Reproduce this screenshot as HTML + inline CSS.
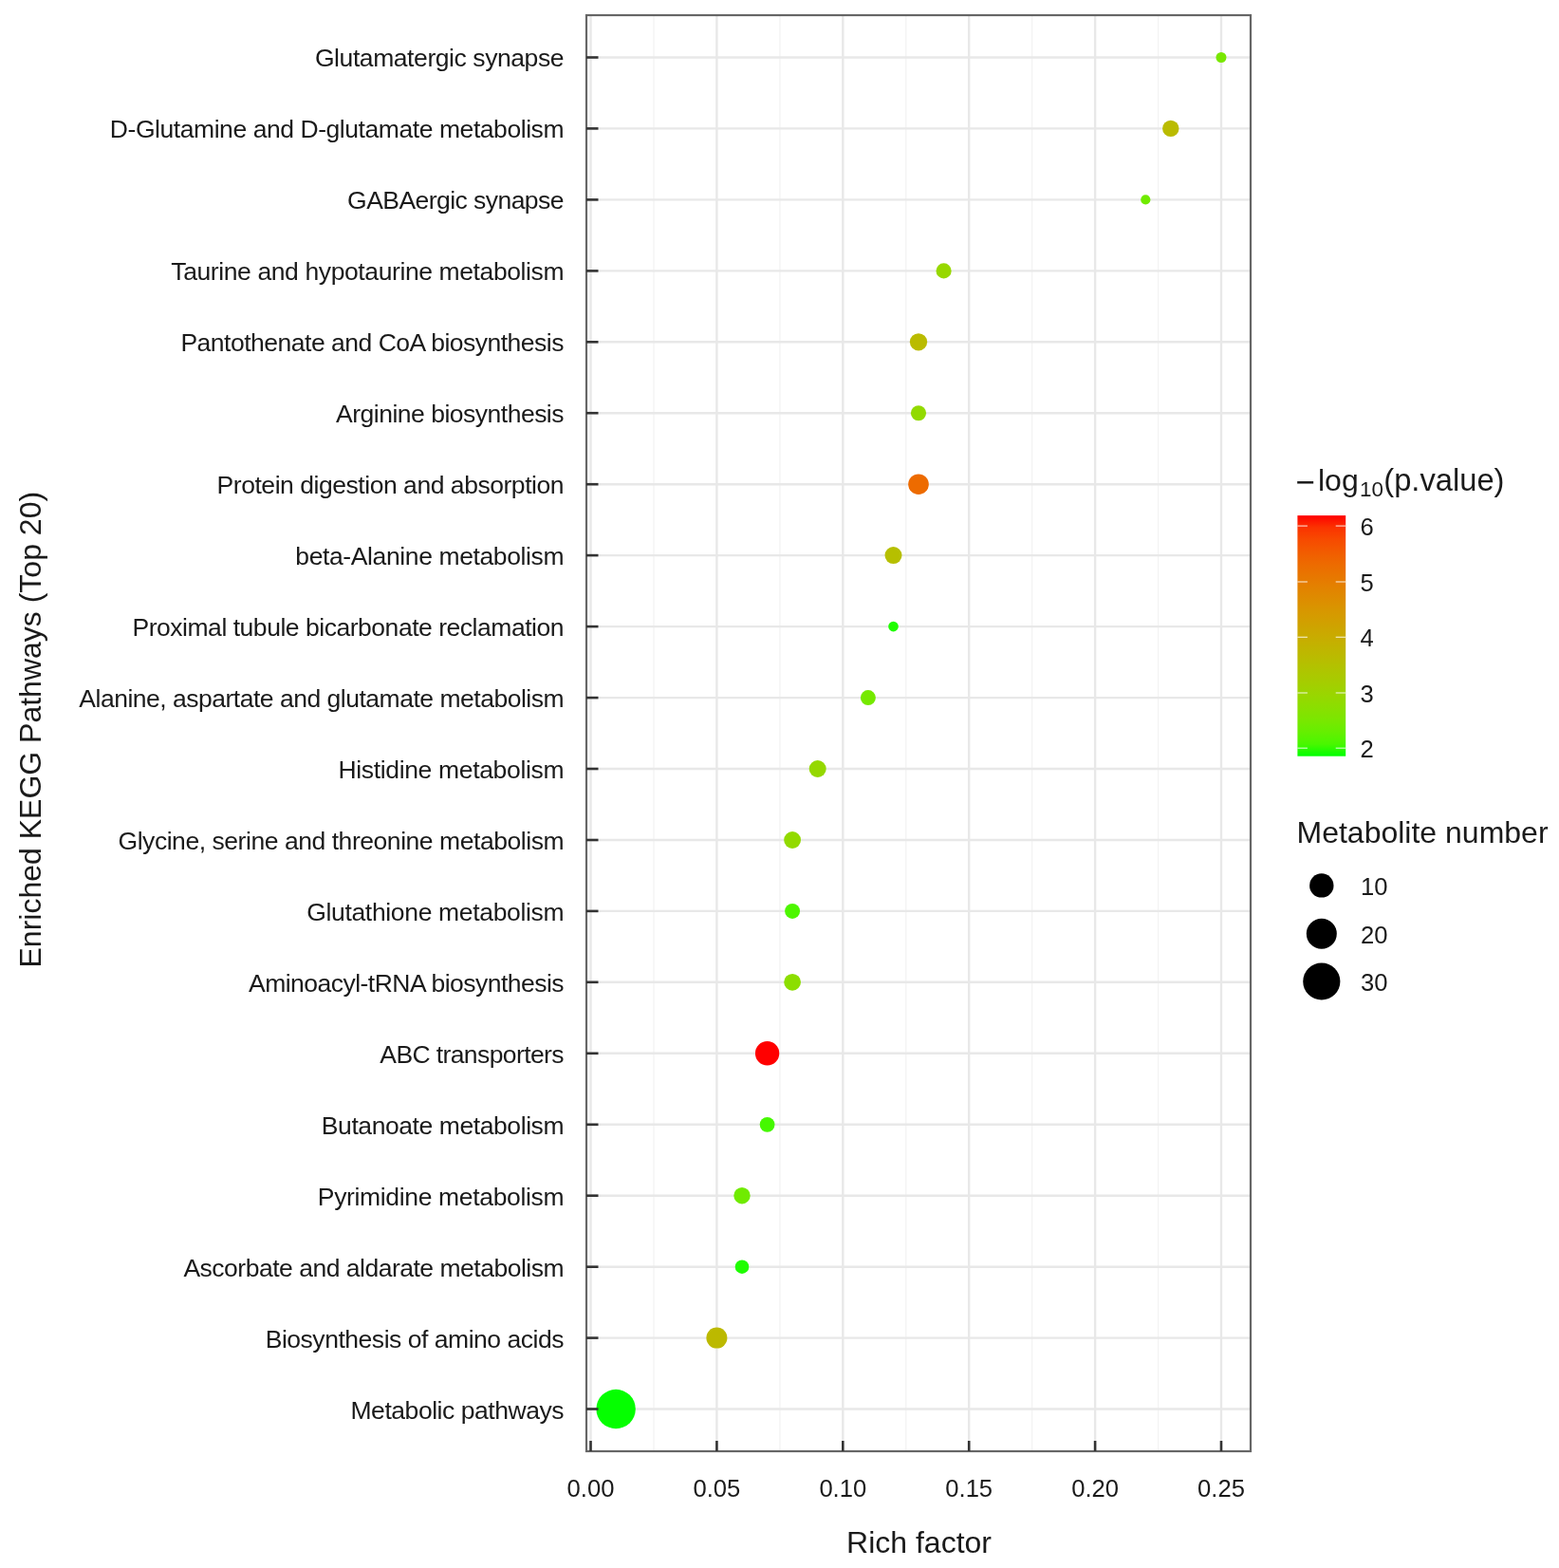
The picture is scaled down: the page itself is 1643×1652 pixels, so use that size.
<!DOCTYPE html><html><head><meta charset="utf-8"><title>KEGG enrichment bubble chart</title><style>html,body{margin:0;padding:0;background:#fff}svg{display:block;filter:blur(0.55px)}text{font-family:"Liberation Sans",Arial,Helvetica,sans-serif}</style></head><body>
<svg width="1643" height="1652" viewBox="0 0 1643 1652">
<rect width="1643" height="1652" fill="#fff"/>
<line x1="689.0" y1="16" x2="689.0" y2="1529" stroke="#f3f3f3" stroke-width="1.3"/>
<line x1="821.9" y1="16" x2="821.9" y2="1529" stroke="#f3f3f3" stroke-width="1.3"/>
<line x1="954.8" y1="16" x2="954.8" y2="1529" stroke="#f3f3f3" stroke-width="1.3"/>
<line x1="1087.7" y1="16" x2="1087.7" y2="1529" stroke="#f3f3f3" stroke-width="1.3"/>
<line x1="1220.6" y1="16" x2="1220.6" y2="1529" stroke="#f3f3f3" stroke-width="1.3"/>
<line x1="622.5" y1="16" x2="622.5" y2="1529" stroke="#e8e8e8" stroke-width="2.4"/>
<line x1="755.4" y1="16" x2="755.4" y2="1529" stroke="#e8e8e8" stroke-width="2.4"/>
<line x1="888.3" y1="16" x2="888.3" y2="1529" stroke="#e8e8e8" stroke-width="2.4"/>
<line x1="1021.2" y1="16" x2="1021.2" y2="1529" stroke="#e8e8e8" stroke-width="2.4"/>
<line x1="1154.1" y1="16" x2="1154.1" y2="1529" stroke="#e8e8e8" stroke-width="2.4"/>
<line x1="1287.0" y1="16" x2="1287.0" y2="1529" stroke="#e8e8e8" stroke-width="2.4"/>
<line x1="618" y1="60.5" x2="1318" y2="60.5" stroke="#e8e8e8" stroke-width="2.4"/>
<line x1="618" y1="135.4" x2="1318" y2="135.4" stroke="#e8e8e8" stroke-width="2.4"/>
<line x1="618" y1="210.4" x2="1318" y2="210.4" stroke="#e8e8e8" stroke-width="2.4"/>
<line x1="618" y1="285.4" x2="1318" y2="285.4" stroke="#e8e8e8" stroke-width="2.4"/>
<line x1="618" y1="360.3" x2="1318" y2="360.3" stroke="#e8e8e8" stroke-width="2.4"/>
<line x1="618" y1="435.2" x2="1318" y2="435.2" stroke="#e8e8e8" stroke-width="2.4"/>
<line x1="618" y1="510.2" x2="1318" y2="510.2" stroke="#e8e8e8" stroke-width="2.4"/>
<line x1="618" y1="585.1" x2="1318" y2="585.1" stroke="#e8e8e8" stroke-width="2.4"/>
<line x1="618" y1="660.1" x2="1318" y2="660.1" stroke="#e8e8e8" stroke-width="2.4"/>
<line x1="618" y1="735.1" x2="1318" y2="735.1" stroke="#e8e8e8" stroke-width="2.4"/>
<line x1="618" y1="810.0" x2="1318" y2="810.0" stroke="#e8e8e8" stroke-width="2.4"/>
<line x1="618" y1="885.0" x2="1318" y2="885.0" stroke="#e8e8e8" stroke-width="2.4"/>
<line x1="618" y1="959.9" x2="1318" y2="959.9" stroke="#e8e8e8" stroke-width="2.4"/>
<line x1="618" y1="1034.8" x2="1318" y2="1034.8" stroke="#e8e8e8" stroke-width="2.4"/>
<line x1="618" y1="1109.8" x2="1318" y2="1109.8" stroke="#e8e8e8" stroke-width="2.4"/>
<line x1="618" y1="1184.8" x2="1318" y2="1184.8" stroke="#e8e8e8" stroke-width="2.4"/>
<line x1="618" y1="1259.7" x2="1318" y2="1259.7" stroke="#e8e8e8" stroke-width="2.4"/>
<line x1="618" y1="1334.7" x2="1318" y2="1334.7" stroke="#e8e8e8" stroke-width="2.4"/>
<line x1="618" y1="1409.6" x2="1318" y2="1409.6" stroke="#e8e8e8" stroke-width="2.4"/>
<line x1="618" y1="1484.5" x2="1318" y2="1484.5" stroke="#e8e8e8" stroke-width="2.4"/>
<circle cx="1287.0" cy="60.5" r="5.5" fill="#79e700"/>
<circle cx="1233.8" cy="135.4" r="8.7" fill="#babb00"/>
<circle cx="1207.3" cy="210.4" r="5.1" fill="#70eb00"/>
<circle cx="994.6" cy="285.4" r="8.05" fill="#97d800"/>
<circle cx="968.0" cy="360.3" r="9.15" fill="#babb00"/>
<circle cx="968.0" cy="435.2" r="8.05" fill="#92da00"/>
<circle cx="968.0" cy="510.2" r="10.8" fill="#ed6b00"/>
<circle cx="941.5" cy="585.1" r="9.0" fill="#b6bf00"/>
<circle cx="941.5" cy="660.1" r="5.3" fill="#1ffd00"/>
<circle cx="914.9" cy="735.1" r="8.0" fill="#75e900"/>
<circle cx="861.7" cy="810.0" r="9.0" fill="#95d800"/>
<circle cx="835.1" cy="885.0" r="8.9" fill="#92da00"/>
<circle cx="835.1" cy="959.9" r="8.0" fill="#4df600"/>
<circle cx="835.1" cy="1034.8" r="8.9" fill="#8cde00"/>
<circle cx="808.6" cy="1109.8" r="12.7" fill="#ff0000"/>
<circle cx="808.6" cy="1184.8" r="7.9" fill="#45f800"/>
<circle cx="782.0" cy="1259.7" r="8.7" fill="#70eb00"/>
<circle cx="782.0" cy="1334.7" r="7.3" fill="#1ffd00"/>
<circle cx="755.4" cy="1409.6" r="11.0" fill="#bcb900"/>
<circle cx="649.1" cy="1484.5" r="20.7" fill="#05ff00"/>
<rect x="618" y="16" width="700" height="1513" fill="none" stroke="#666" stroke-width="2.2"/>
<line x1="618" y1="60.5" x2="630.5" y2="60.5" stroke="#333" stroke-width="2.6"/>
<line x1="618" y1="135.4" x2="630.5" y2="135.4" stroke="#333" stroke-width="2.6"/>
<line x1="618" y1="210.4" x2="630.5" y2="210.4" stroke="#333" stroke-width="2.6"/>
<line x1="618" y1="285.4" x2="630.5" y2="285.4" stroke="#333" stroke-width="2.6"/>
<line x1="618" y1="360.3" x2="630.5" y2="360.3" stroke="#333" stroke-width="2.6"/>
<line x1="618" y1="435.2" x2="630.5" y2="435.2" stroke="#333" stroke-width="2.6"/>
<line x1="618" y1="510.2" x2="630.5" y2="510.2" stroke="#333" stroke-width="2.6"/>
<line x1="618" y1="585.1" x2="630.5" y2="585.1" stroke="#333" stroke-width="2.6"/>
<line x1="618" y1="660.1" x2="630.5" y2="660.1" stroke="#333" stroke-width="2.6"/>
<line x1="618" y1="735.1" x2="630.5" y2="735.1" stroke="#333" stroke-width="2.6"/>
<line x1="618" y1="810.0" x2="630.5" y2="810.0" stroke="#333" stroke-width="2.6"/>
<line x1="618" y1="885.0" x2="630.5" y2="885.0" stroke="#333" stroke-width="2.6"/>
<line x1="618" y1="959.9" x2="630.5" y2="959.9" stroke="#333" stroke-width="2.6"/>
<line x1="618" y1="1034.8" x2="630.5" y2="1034.8" stroke="#333" stroke-width="2.6"/>
<line x1="618" y1="1109.8" x2="630.5" y2="1109.8" stroke="#333" stroke-width="2.6"/>
<line x1="618" y1="1184.8" x2="630.5" y2="1184.8" stroke="#333" stroke-width="2.6"/>
<line x1="618" y1="1259.7" x2="630.5" y2="1259.7" stroke="#333" stroke-width="2.6"/>
<line x1="618" y1="1334.7" x2="630.5" y2="1334.7" stroke="#333" stroke-width="2.6"/>
<line x1="618" y1="1409.6" x2="630.5" y2="1409.6" stroke="#333" stroke-width="2.6"/>
<line x1="618" y1="1484.5" x2="630.5" y2="1484.5" stroke="#333" stroke-width="2.6"/>
<line x1="622.5" y1="1529" x2="622.5" y2="1518" stroke="#333" stroke-width="2.6"/>
<line x1="755.4" y1="1529" x2="755.4" y2="1518" stroke="#333" stroke-width="2.6"/>
<line x1="888.3" y1="1529" x2="888.3" y2="1518" stroke="#333" stroke-width="2.6"/>
<line x1="1021.2" y1="1529" x2="1021.2" y2="1518" stroke="#333" stroke-width="2.6"/>
<line x1="1154.1" y1="1529" x2="1154.1" y2="1518" stroke="#333" stroke-width="2.6"/>
<line x1="1287.0" y1="1529" x2="1287.0" y2="1518" stroke="#333" stroke-width="2.6"/>
<text x="594.5" y="70.4" font-size="26.5" fill="#1a1a1a" text-anchor="end" textLength="262.6" lengthAdjust="spacing">Glutamatergic synapse</text>
<text x="594.5" y="145.3" font-size="26.5" fill="#1a1a1a" text-anchor="end" textLength="478.7" lengthAdjust="spacing">D-Glutamine and D-glutamate metabolism</text>
<text x="594.5" y="220.3" font-size="26.5" fill="#1a1a1a" text-anchor="end" textLength="228.4" lengthAdjust="spacing">GABAergic synapse</text>
<text x="594.5" y="295.2" font-size="26.5" fill="#1a1a1a" text-anchor="end" textLength="414.2" lengthAdjust="spacing">Taurine and hypotaurine metabolism</text>
<text x="594.5" y="370.2" font-size="26.5" fill="#1a1a1a" text-anchor="end" textLength="404.1" lengthAdjust="spacing">Pantothenate and CoA biosynthesis</text>
<text x="594.5" y="445.1" font-size="26.5" fill="#1a1a1a" text-anchor="end" textLength="240.4" lengthAdjust="spacing">Arginine biosynthesis</text>
<text x="594.5" y="520.1" font-size="26.5" fill="#1a1a1a" text-anchor="end" textLength="365.9" lengthAdjust="spacing">Protein digestion and absorption</text>
<text x="594.5" y="595.0" font-size="26.5" fill="#1a1a1a" text-anchor="end" textLength="283.2" lengthAdjust="spacing">beta-Alanine metabolism</text>
<text x="594.5" y="670.0" font-size="26.5" fill="#1a1a1a" text-anchor="end" textLength="455.0" lengthAdjust="spacing">Proximal tubule bicarbonate reclamation</text>
<text x="594.5" y="745.0" font-size="26.5" fill="#1a1a1a" text-anchor="end" textLength="511.2" lengthAdjust="spacing">Alanine, aspartate and glutamate metabolism</text>
<text x="594.5" y="819.9" font-size="26.5" fill="#1a1a1a" text-anchor="end" textLength="238.1" lengthAdjust="spacing">Histidine metabolism</text>
<text x="594.5" y="894.9" font-size="26.5" fill="#1a1a1a" text-anchor="end" textLength="470.0" lengthAdjust="spacing">Glycine, serine and threonine metabolism</text>
<text x="594.5" y="969.8" font-size="26.5" fill="#1a1a1a" text-anchor="end" textLength="271.3" lengthAdjust="spacing">Glutathione metabolism</text>
<text x="594.5" y="1044.8" font-size="26.5" fill="#1a1a1a" text-anchor="end" textLength="332.5" lengthAdjust="spacing">Aminoacyl-tRNA biosynthesis</text>
<text x="594.5" y="1119.7" font-size="26.5" fill="#1a1a1a" text-anchor="end" textLength="194.2" lengthAdjust="spacing">ABC transporters</text>
<text x="594.5" y="1194.7" font-size="26.5" fill="#1a1a1a" text-anchor="end" textLength="255.7" lengthAdjust="spacing">Butanoate metabolism</text>
<text x="594.5" y="1269.6" font-size="26.5" fill="#1a1a1a" text-anchor="end" textLength="259.7" lengthAdjust="spacing">Pyrimidine metabolism</text>
<text x="594.5" y="1344.6" font-size="26.5" fill="#1a1a1a" text-anchor="end" textLength="401.1" lengthAdjust="spacing">Ascorbate and aldarate metabolism</text>
<text x="594.5" y="1419.5" font-size="26.5" fill="#1a1a1a" text-anchor="end" textLength="314.8" lengthAdjust="spacing">Biosynthesis of amino acids</text>
<text x="594.5" y="1494.5" font-size="26.5" fill="#1a1a1a" text-anchor="end" textLength="225.0" lengthAdjust="spacing">Metabolic pathways</text>
<text x="622.5" y="1576.8" font-size="25.6" fill="#1a1a1a" text-anchor="middle">0.00</text>
<text x="755.4" y="1576.8" font-size="25.6" fill="#1a1a1a" text-anchor="middle">0.05</text>
<text x="888.3" y="1576.8" font-size="25.6" fill="#1a1a1a" text-anchor="middle">0.10</text>
<text x="1021.2" y="1576.8" font-size="25.6" fill="#1a1a1a" text-anchor="middle">0.15</text>
<text x="1154.1" y="1576.8" font-size="25.6" fill="#1a1a1a" text-anchor="middle">0.20</text>
<text x="1287.0" y="1576.8" font-size="25.6" fill="#1a1a1a" text-anchor="middle">0.25</text>
<text x="968.5" y="1636" font-size="32" fill="#1a1a1a" text-anchor="middle">Rich factor</text>
<text transform="translate(42.5,768.7) rotate(-90)" x="0" y="0" font-size="32" fill="#1a1a1a" text-anchor="middle">Enriched KEGG Pathways (Top 20)</text>
<text y="515.8" font-size="32" fill="#1a1a1a"><tspan x="1365.25" y="519.7" font-size="35">−</tspan><tspan x="1389" y="516.6">log</tspan><tspan x="1433" y="522.5" font-size="22.4">10</tspan><tspan x="1458.3" y="517" font-size="32.7">(p.value)</tspan></text>
<defs><linearGradient id="cb" x1="0" y1="0" x2="0" y2="1"><stop offset="0.000" stop-color="#ff0000"/><stop offset="0.050" stop-color="#fb3300"/><stop offset="0.100" stop-color="#f74a00"/><stop offset="0.150" stop-color="#f25b00"/><stop offset="0.200" stop-color="#ed6a00"/><stop offset="0.250" stop-color="#e87600"/><stop offset="0.300" stop-color="#e38200"/><stop offset="0.350" stop-color="#dd8d00"/><stop offset="0.400" stop-color="#d79800"/><stop offset="0.450" stop-color="#d0a100"/><stop offset="0.500" stop-color="#c9ab00"/><stop offset="0.550" stop-color="#c1b400"/><stop offset="0.600" stop-color="#b8bd00"/><stop offset="0.650" stop-color="#aec600"/><stop offset="0.700" stop-color="#a4ce00"/><stop offset="0.750" stop-color="#98d700"/><stop offset="0.800" stop-color="#8adf00"/><stop offset="0.850" stop-color="#7ae700"/><stop offset="0.900" stop-color="#65ef00"/><stop offset="0.950" stop-color="#49f700"/><stop offset="1.000" stop-color="#00ff00"/></linearGradient></defs>
<rect x="1367.4" y="543.1" width="50.8" height="253.6" fill="url(#cb)"/>
<line x1="1367.4" y1="554.1" x2="1377.9" y2="554.1" stroke="#fff" stroke-opacity="0.75" stroke-width="1.2"/>
<line x1="1407.7" y1="554.1" x2="1418.2" y2="554.1" stroke="#fff" stroke-opacity="0.75" stroke-width="1.2"/>
<text x="1433.5" y="563.9" font-size="25.6" fill="#1a1a1a">6</text>
<line x1="1367.4" y1="613.0" x2="1377.9" y2="613.0" stroke="#fff" stroke-opacity="0.75" stroke-width="1.2"/>
<line x1="1407.7" y1="613.0" x2="1418.2" y2="613.0" stroke="#fff" stroke-opacity="0.75" stroke-width="1.2"/>
<text x="1433.5" y="622.8" font-size="25.6" fill="#1a1a1a">5</text>
<line x1="1367.4" y1="671.3" x2="1377.9" y2="671.3" stroke="#fff" stroke-opacity="0.75" stroke-width="1.2"/>
<line x1="1407.7" y1="671.3" x2="1418.2" y2="671.3" stroke="#fff" stroke-opacity="0.75" stroke-width="1.2"/>
<text x="1433.5" y="681.1" font-size="25.6" fill="#1a1a1a">4</text>
<line x1="1367.4" y1="730.0" x2="1377.9" y2="730.0" stroke="#fff" stroke-opacity="0.75" stroke-width="1.2"/>
<line x1="1407.7" y1="730.0" x2="1418.2" y2="730.0" stroke="#fff" stroke-opacity="0.75" stroke-width="1.2"/>
<text x="1433.5" y="739.8" font-size="25.6" fill="#1a1a1a">3</text>
<line x1="1367.4" y1="788.2" x2="1377.9" y2="788.2" stroke="#fff" stroke-opacity="0.75" stroke-width="1.2"/>
<line x1="1407.7" y1="788.2" x2="1418.2" y2="788.2" stroke="#fff" stroke-opacity="0.75" stroke-width="1.2"/>
<text x="1433.5" y="798.0" font-size="25.6" fill="#1a1a1a">2</text>
<text x="1366.5" y="888.3" font-size="32" fill="#1a1a1a">Metabolite number</text>
<circle cx="1392.8" cy="932.9" r="12.7" fill="#000"/>
<text x="1434" y="942.7" font-size="25.6" fill="#1a1a1a">10</text>
<circle cx="1392.8" cy="983.8" r="16.0" fill="#000"/>
<text x="1434" y="993.6" font-size="25.6" fill="#1a1a1a">20</text>
<circle cx="1392.8" cy="1034.0" r="19.6" fill="#000"/>
<text x="1434" y="1043.8" font-size="25.6" fill="#1a1a1a">30</text>
</svg></body></html>
